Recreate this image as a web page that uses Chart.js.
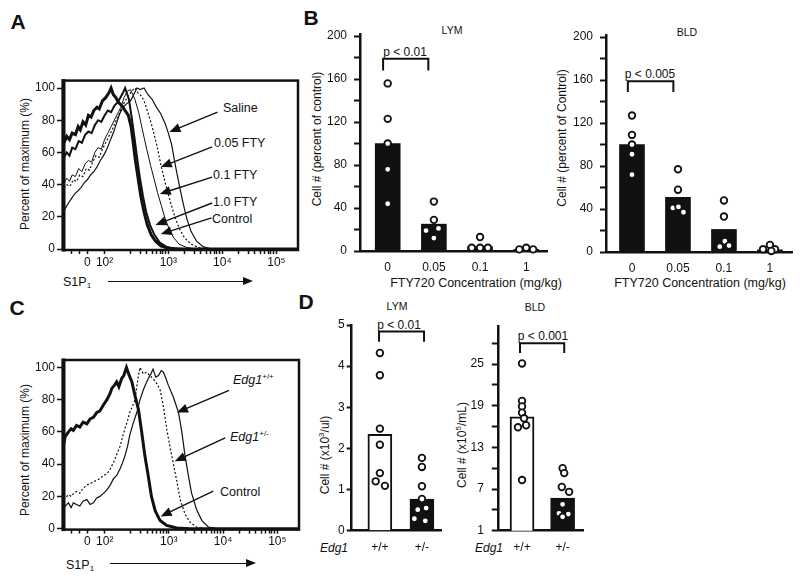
<!DOCTYPE html>
<html>
<head>
<meta charset="utf-8">
<script src="https://cdn.jsdelivr.net/npm/chart.js@4.4.0/dist/chart.umd.min.js"></script>
<style>
  body { margin: 0; width: 800px; height: 588px; position: relative; overflow: hidden; background: #fff;
         font-family: "Liberation Sans", Arial, sans-serif; color: #111; }
  canvas { position: absolute; }
  .t { position: absolute; white-space: nowrap; font-size: 12px; transform: translate(-50%, -50%); }
  .l { position: absolute; white-space: nowrap; font-size: 12.5px; transform: translate(0, -50%); }
  .rot { transform: translate(-50%, -50%) rotate(-90deg); }
  .letter { font-weight: bold; font-size: 21px; }
  .small { font-size: 10.5px; }
  sup { font-size: 8px; vertical-align: 5px; line-height: 0; }
  sub { font-size: 8px; vertical-align: -2px; line-height: 0; }
  .arrow { position: absolute; height: 0; border-top: 1.5px solid #111; }
  .arrow::after { content: ""; position: absolute; right: -3px; top: -5.5px;
                  border-left: 10px solid #111; border-top: 4.5px solid transparent; border-bottom: 4.5px solid transparent; }
</style>
</head>
<body>

<div class="t letter" style="left:18px;top:22px">A</div>
<div class="t letter" style="left:311px;top:18px">B</div>
<div class="t letter" style="left:17px;top:308px">C</div>
<div class="t letter" style="left:306px;top:302px">D</div>

<div class="t rot" style="left:25px;top:164px">Percent of maximum (%)</div>
<div class="t rot" style="left:25px;top:450px">Percent of maximum (%)</div>
<div class="t rot" style="left:317px;top:139px">Cell # (percent of control)</div>
<div class="t rot" style="left:562px;top:138px">Cell # (percent of Control)</div>
<div class="t rot" style="left:325px;top:455px">Cell # (x10<sup>3</sup>/ul)</div>
<div class="t rot" style="left:462px;top:445px">Cell # (x10<sup>5</sup>/mL)</div>

<div class="t small" style="left:452px;top:30px">LYM</div>
<div class="t small" style="left:687px;top:32px">BLD</div>
<div class="t small" style="left:397px;top:306px">LYM</div>
<div class="t small" style="left:535px;top:307px">BLD</div>

<div class="t" style="left:405px;top:52px">p &lt; 0.01</div>
<div class="t" style="left:650px;top:74px">p &lt; 0.005</div>
<div class="t" style="left:399px;top:325px">p &lt; 0.01</div>
<div class="t" style="left:543px;top:336px">p &lt; 0.001</div>

<div class="t" style="left:476px;top:283px;font-size:12.5px">FTY720 Concentration (mg/kg)</div>
<div class="t" style="left:700px;top:283px;font-size:12.5px">FTY720 Concentration (mg/kg)</div>
<div class="t" style="left:334px;top:548px;font-style:italic">Edg1</div>
<div class="t" style="left:489px;top:548px;font-style:italic">Edg1</div>

<div class="l" style="left:223px;top:108px">Saline</div>
<div class="l" style="left:214px;top:143px">0.05 FTY</div>
<div class="l" style="left:213px;top:175px">0.1 FTY</div>
<div class="l" style="left:213px;top:202px">1.0 FTY</div>
<div class="l" style="left:212px;top:219px">Control</div>

<div class="l" style="left:233px;top:380px"><i>Edg1</i><sup>+/+</sup></div>
<div class="l" style="left:230px;top:437px"><i>Edg1</i><sup>+/-</sup></div>
<div class="l" style="left:220px;top:492px">Control</div>

<div class="l" style="left:63px;top:282px">S1P<sub>1</sub></div>
<div class="arrow" style="left:108px;top:281px;width:142px"></div>
<div class="l" style="left:66px;top:565px">S1P<sub>1</sub></div>
<div class="arrow" style="left:110px;top:563px;width:143px"></div>

<script>
// flow axis in decade units of the logicle scale
const flowTickValues = [1.5, 1.82, 3, 4, 5];
const flowTickText = ["0", "10²", "10³", "10⁴", "10⁵"];
const flowMinorTicks = [1.2, 1.35, 2.3, 2.48, 2.6, 2.7, 2.78, 2.85, 2.9, 2.95,
  3.3, 3.48, 3.6, 3.7, 3.78, 3.85, 3.9, 3.95, 4.3, 4.48, 4.6, 4.7, 4.78, 4.85, 4.9, 4.95];
const percentTicks = [0, 20, 40, 60, 80, 100];

// panel A: [S1P1 decade, percent of max]
const salineA = [[1.07,24],[1.14,28],[1.20,31],[1.26,34],[1.32,36],[1.38,38],[1.44,41],[1.50,43],[1.56,46],[1.62,48],[1.68,51],[1.74,55],[1.80,58],[1.86,62],[1.92,67],[1.98,72],[2.04,78],[2.10,84],[2.16,88],[2.22,90],[2.30,92],[2.36,96],[2.42,100],[2.48,99],[2.55,100],[2.62,96],[2.70,93],[2.78,88],[2.86,84],[2.94,78],[3.00,72],[3.06,65],[3.13,52],[3.20,40],[3.27,29],[3.34,19],[3.42,11],[3.52,5],[3.64,1.5],[3.8,0],[5.4,0]];
const fty005A = [[1.07,38],[1.12,40],[1.18,39],[1.24,43],[1.30,42],[1.36,46],[1.42,45],[1.48,50],[1.54,49],[1.60,54],[1.66,58],[1.72,57],[1.78,62],[1.84,66],[1.90,70],[1.96,74],[2.02,79],[2.08,83],[2.14,88],[2.20,92],[2.26,95],[2.32,98],[2.38,100],[2.44,97],[2.50,95],[2.55,92],[2.62,85],[2.70,76],[2.79,64],[2.87,51],[2.95,40],[3.04,29],[3.12,20],[3.20,13],[3.30,7],[3.42,3],[3.56,1],[3.7,0],[5.4,0]];
const fty01A = [[1.07,41],[1.12,44],[1.17,42],[1.22,46],[1.28,45],[1.34,50],[1.40,48],[1.46,53],[1.52,55],[1.58,54],[1.64,60],[1.70,63],[1.76,62],[1.82,68],[1.88,72],[1.94,76],[2.00,80],[2.06,84],[2.12,88],[2.18,94],[2.24,98],[2.30,99],[2.34,96],[2.38,93],[2.45,85],[2.52,74],[2.60,62],[2.67,52],[2.74,43],[2.80,35],[2.87,27],[2.94,19],[3.02,12],[3.10,7],[3.20,3],[3.34,1],[3.5,0],[5.4,0]];
const fty1A = [[1.07,57],[1.12,60],[1.17,58],[1.22,63],[1.28,62],[1.34,67],[1.40,66],[1.46,71],[1.52,73],[1.58,72],[1.64,77],[1.70,80],[1.76,79],[1.82,83],[1.88,86],[1.94,85],[2.00,89],[2.06,91],[2.11,94],[2.16,97],[2.20,100],[2.24,96],[2.27,93],[2.32,82],[2.37,70],[2.42,57],[2.47,45],[2.53,33],[2.59,23],[2.66,15],[2.74,9],[2.84,4],[2.96,1.5],[3.1,0.3],[3.3,0],[5.4,0]];
const controlA = [[1.07,66],[1.12,70],[1.17,68],[1.22,72],[1.28,71],[1.33,76],[1.37,74],[1.42,79],[1.47,77],[1.52,83],[1.57,82],[1.62,86],[1.68,88],[1.72,87],[1.78,92],[1.84,94],[1.90,97],[1.94,100],[1.98,96],[2.03,94],[2.08,91],[2.14,89],[2.20,86],[2.26,83],[2.31,76],[2.35,66],[2.39,55],[2.44,44],[2.49,33],[2.55,23],[2.61,15],[2.68,9],[2.76,5],[2.86,2],[3.0,0.5],[3.2,0],[5.4,0]];

// panel C
const wildTypeC = [[1.06,15],[1.09,14],[1.15,16],[1.20,13],[1.24,16],[1.30,15],[1.36,14],[1.42,17],[1.49,18],[1.55,15],[1.61,16],[1.67,19],[1.73,20],[1.80,22],[1.86,24],[1.92,27],[1.98,31],[2.04,33],[2.10,37],[2.15,41],[2.19,45],[2.24,51],[2.28,58],[2.34,65],[2.41,72],[2.47,80],[2.53,86],[2.58,90],[2.62,93],[2.67,96],[2.71,99],[2.76,94],[2.81,95],[2.86,98],[2.90,97],[2.95,93],[2.99,89],[3.04,85],[3.08,82],[3.13,77],[3.18,72],[3.24,60],[3.30,45],[3.36,33],[3.42,22],[3.51,12],[3.61,5],[3.73,1],[3.88,0],[5.4,0]];
const hetC = [[1.06,18],[1.09,19],[1.15,21],[1.20,20],[1.25,22],[1.30,23],[1.36,22],[1.42,25],[1.49,27],[1.55,28],[1.61,29],[1.67,30],[1.73,31],[1.80,33],[1.86,34],[1.92,37],[1.98,41],[2.04,46],[2.10,51],[2.15,57],[2.19,62],[2.24,67],[2.28,72],[2.33,76],[2.38,80],[2.41,88],[2.44,95],[2.47,100],[2.53,96],[2.59,97],[2.65,95],[2.71,93],[2.78,90],[2.84,86],[2.90,76],[2.96,62],[3.02,51],[3.08,41],[3.15,29],[3.21,18],[3.30,9],[3.39,4],[3.51,1],[3.64,0],[5.4,0]];
const controlC = [[1.06,52],[1.09,57],[1.15,60],[1.20,62],[1.24,61],[1.30,64],[1.36,63],[1.42,66],[1.49,65],[1.55,68],[1.61,69],[1.67,72],[1.73,73],[1.80,77],[1.86,80],[1.92,84],[1.95,87],[2.00,89],[2.04,91],[2.08,88],[2.13,93],[2.17,95],[2.22,100],[2.26,96],[2.32,91],[2.38,82],[2.44,74],[2.50,60],[2.56,45],[2.62,33],[2.68,20],[2.75,11],[2.84,5],[2.96,2],[3.15,0.4],[3.4,0],[5.4,0]];

// panel B
const doseLabels = ["0", "0.05", "0.1", "1"];
const percentBarTicks = [0, 20, 40, 60, 80, 100, 120, 140, 160, 180, 200];
const lymMeans = [100, 25, 4, 1.5];
const lymPoints = [[156, 123, 100, 76, 44], [46, 29, 21, 19, 12], [13, 3, 3, 3], [1.5, 3, 1.5]];
const lymJitter = [[0, 0, 0, 0, 0], [0, 0, 0.1, -0.17, 0], [0, -0.18, 0, 0.17], [-0.15, 0, 0.15]];
const bldMeans = [100, 51, 21, 2];
const bldPoints = [[127, 109, 100, 91, 72], [77, 58, 41, 42, 37], [48, 33, 10, 6, 5], [2.5, 6.5, 2.5, 1]];
const bldJitter = [[0, 0, 0, 0, 0], [0, 0, -0.11, 0.01, 0.12], [0, 0, 0.02, 0.11, -0.09], [-0.15, 0, 0.11, 0.03]];

// panel D
const genotypeLabels = ["+/+", "+/-"];
const lymCountTicks = [0, 1, 2, 3, 4, 5];
const lymCountMeans = [2.34, 0.77];
const lymCountPoints = [[4.32, 3.78, 2.48, 2.09, 1.40, 1.20, 1.09], [1.77, 1.55, 1.08, 0.77, 0.51, 0.55, 0.29, 0.24]];
const lymCountJitter = [[0, 0, 0, 0, 0, -0.1, 0.12], [0, 0, 0, 0, -0.1, 0.1, -0.18, 0.08]];
const bldCountTicks = [1, 4, 7, 10, 13, 16, 19, 22, 25, 28];
const bldCountMeans = [17.4, 5.7];
const bldCountPoints = [[25.1, 19.7, 18.9, 18.0, 17.2, 16.2, 15.9, 8.3], [10.0, 9.3, 7.3, 6.6, 4.8, 3.5, 3.4, 3.0]];
const bldCountJitter = [[0, 0, 0, 0, 0.05, 0.1, -0.1, 0], [0, 0.04, -0.02, 0.16, 0, -0.09, 0.14, 0]];

Chart.defaults.font.family = '"Liberation Sans", Arial, sans-serif';
Chart.defaults.font.size = 12;
Chart.defaults.color = "#111";

const marks = {
  id: "marks",
  afterDatasetsDraw(chart, args, opts) {
    const { ctx, chartArea: a, scales: { x, y } } = chart;
    ctx.save();
    ctx.strokeStyle = "#111";
    ctx.fillStyle = "#111";
    if (opts.frame) {
      ctx.lineWidth = 2.5;
      ctx.strokeRect(a.left, a.top, a.right - a.left, a.bottom - a.top);
      ctx.fillRect(a.left - 1.5, a.top - 1.5, 4, a.bottom - a.top + 3);
    }
    (opts.arrows || []).forEach(([x0, y0, x1, y1]) => {
      const p0x = x.getPixelForValue(x0), p0y = y.getPixelForValue(y0);
      const p1x = x.getPixelForValue(x1), p1y = y.getPixelForValue(y1);
      const ang = Math.atan2(p1y - p0y, p1x - p0x);
      const c = Math.cos(ang), s = Math.sin(ang);
      ctx.lineWidth = 1.4;
      ctx.beginPath();
      ctx.moveTo(p0x, p0y);
      ctx.lineTo(p1x - 8 * c, p1y - 8 * s);
      ctx.stroke();
      ctx.beginPath();
      ctx.moveTo(p1x, p1y);
      ctx.lineTo(p1x - 11 * c + 4.5 * s, p1y - 11 * s - 4.5 * c);
      ctx.lineTo(p1x - 11 * c - 4.5 * s, p1y - 11 * s + 4.5 * c);
      ctx.closePath();
      ctx.fill();
    });
    if (opts.bracket) {
      const [from, to, level, leg] = opts.bracket;
      const bx0 = x.getPixelForValue(from), bx1 = x.getPixelForValue(to);
      const by0 = y.getPixelForValue(level), by1 = y.getPixelForValue(leg);
      ctx.lineWidth = 2;
      ctx.beginPath();
      ctx.moveTo(bx0, by1);
      ctx.lineTo(bx0, by0);
      ctx.lineTo(bx1, by0);
      ctx.lineTo(bx1, by1);
      ctx.stroke();
    }
    ctx.restore();
  },
};

function place(left, top, w, h) {
  const canvas = document.createElement("canvas");
  canvas.width = w;
  canvas.height = h;
  canvas.style.left = left + "px";
  canvas.style.top = top + "px";
  document.body.appendChild(canvas);
  return canvas;
}

function flowChart(canvas, series, arrows, padding) {
  new Chart(canvas, {
    type: "scatter",
    data: {
      datasets: series.map((s) => ({
        data: s.data.map(([x, y]) => ({ x, y })),
        showLine: true,
        pointRadius: 0,
        borderColor: "#111",
        borderWidth: s.width,
        borderDash: s.dash || [],
      })),
    },
    options: {
      responsive: false,
      animation: false,
      layout: { padding },
      plugins: { legend: { display: false }, tooltip: { enabled: false }, marks: { frame: true, arrows } },
      scales: {
        x: {
          type: "linear", min: 1.05, max: 5.4,
          afterBuildTicks: (s) => { s.ticks = flowMinorTicks.concat(flowTickValues).sort((a, b) => a - b).map((v) => ({ value: v })); },
          afterFit: (s) => { s.height = 30; },
          ticks: {
            autoSkip: false, maxRotation: 0, padding: 1,
            callback: (v) => { const i = flowTickValues.indexOf(v); return i < 0 ? "" : flowTickText[i]; },
          },
          grid: { drawOnChartArea: false, tickLength: 4, tickColor: "#111", tickWidth: 1.5 },
          border: { display: false },
        },
        y: {
          min: -0.6, max: 104.6,
          afterBuildTicks: (s) => { s.ticks = percentTicks.map((v) => ({ value: v })); },
          afterFit: (s) => { s.width = 63; },
          ticks: { padding: 2 },
          grid: { drawOnChartArea: false, tickLength: 6, tickColor: "#111", tickWidth: 1.5 },
          border: { display: false },
        },
      },
    },
    plugins: [marks],
  });
}

function dotBarChart(canvas, cfg) {
  const points = [];
  cfg.points.forEach((group, i) => {
    group.forEach((v, j) => points.push({ x: i + cfg.jitter[i][j], y: v }));
  });
  new Chart(canvas, {
    type: "bar",
    data: {
      datasets: [
        {
          type: "scatter", data: points, order: 0, clip: false,
          pointRadius: 3.3, pointBorderWidth: 1.8, pointBorderColor: "#111", pointBackgroundColor: "#fff",
        },
        {
          data: cfg.means.map((v, i) => ({ x: i, y: v })), order: 1,
          backgroundColor: cfg.fill, borderColor: "#111", borderWidth: cfg.outline, barThickness: cfg.barWidth,
        },
      ],
    },
    options: {
      responsive: false,
      animation: false,
      layout: { padding: cfg.padding },
      plugins: { legend: { display: false }, tooltip: { enabled: false }, marks: { bracket: cfg.bracket } },
      scales: {
        x: {
          type: "linear", offset: false, min: cfg.xRange[0], max: cfg.xRange[1],
          afterBuildTicks: (s) => { s.ticks = cfg.labels.map((_, i) => ({ value: i })); },
          afterFit: (s) => { s.height = cfg.xHeight; },
          ticks: { autoSkip: false, maxRotation: 0, padding: cfg.xPad, callback: (v) => cfg.labels[v] },
          grid: { display: false, drawTicks: false, offset: false },
          border: { color: "#111", width: 2.5 },
        },
        y: {
          min: cfg.yRange[0], max: cfg.yRange[1], beginAtZero: false,
          afterBuildTicks: (s) => { s.ticks = cfg.yTicks.map((v) => ({ value: v })); },
          afterFit: (s) => { s.width = cfg.yWidth; },
          ticks: { autoSkip: false, padding: cfg.yPad, callback: cfg.yLabel },
          grid: { drawOnChartArea: false, tickLength: cfg.tickLen, tickColor: "#111", tickWidth: 2 },
          border: { color: "#111", width: 2.5 },
        },
      },
    },
    plugins: [marks],
  });
}

document.addEventListener("DOMContentLoaded", () => {
  flowChart(place(0, 60, 310, 230), [
    { data: salineA, width: 1.2 },
    { data: fty005A, width: 1.2, dash: [2, 2] },
    { data: fty01A, width: 1 },
    { data: fty1A, width: 2 },
    { data: controlA, width: 3 },
  ], [
    [3.91, 85, 3.02, 72.7],
    [3.81, 63.4, 2.86, 50.9],
    [3.81, 44.7, 2.84, 34.2],
    [3.81, 28.6, 2.76, 14.9],
    [3.80, 19.3, 2.86, 9.3],
  ], { left: 0, top: 20.6, right: 12, bottom: 10 });

  flowChart(place(0, 345, 310, 230), [
    { data: wildTypeC, width: 1.2 },
    { data: hetC, width: 1.2, dash: [2, 2] },
    { data: controlC, width: 3 },
  ], [
    [4.11, 85.7, 3.15, 72],
    [4.04, 56.3, 3.11, 41.8],
    [3.82, 23.2, 2.85, 7.6],
  ], { left: 0, top: 15, right: 11, bottom: 15.4 });

  const every40 = (v) => (v % 40 === 0 ? v : "");
  dotBarChart(place(290, 15, 265, 285), {
    labels: doseLabels, means: lymMeans, points: lymPoints, jitter: lymJitter,
    fill: "#111", outline: 0, barWidth: 25,
    xRange: [-0.6, 3.45], yRange: [0, 202], yTicks: percentBarTicks, yLabel: every40,
    yWidth: 70, yPad: 7, tickLen: 6, xHeight: 30, xPad: 9,
    bracket: [-0.1, 0.88, 179, 168],
    padding: { left: 0, top: 19, right: 8, bottom: 19 },
  });
  dotBarChart(place(540, 15, 260, 285), {
    labels: doseLabels, means: bldMeans, points: bldPoints, jitter: bldJitter,
    fill: "#111", outline: 0, barWidth: 25,
    xRange: [-0.565, 3.48], yRange: [0, 202], yTicks: percentBarTicks, yLabel: every40,
    yWidth: 66, yPad: 7, tickLen: 6, xHeight: 30, xPad: 9,
    bracket: [-0.09, 0.9, 159, 149],
    padding: { left: 0, top: 20, right: 8, bottom: 18 },
  });

  dotBarChart(place(300, 305, 150, 260), {
    labels: genotypeLabels, means: lymCountMeans, points: lymCountPoints, jitter: lymCountJitter,
    fill: ["#fff", "#111"], outline: 2, barWidth: 24,
    xRange: [-0.67, 1.47], yRange: [0, 5], yTicks: lymCountTicks, yLabel: (v) => v,
    yWidth: 51.7, yPad: 2, tickLen: 5, xHeight: 25, xPad: 10,
    bracket: [-0.02, 1.05, 4.84, 4.59],
    padding: { left: 0, top: 20, right: 8.3, bottom: 9.3 },
  });
  dotBarChart(place(450, 305, 145, 260), {
    labels: genotypeLabels, means: bldCountMeans, points: bldCountPoints, jitter: bldCountJitter,
    fill: ["#fff", "#111"], outline: 2, barWidth: 24,
    xRange: [-0.585, 1.51], yRange: [1, 30.5], yTicks: bldCountTicks, yLabel: (v) => ((v - 1) % 6 === 0 ? v : ""),
    yWidth: 48.3, yPad: 8, tickLen: 6.5, xHeight: 25, xPad: 10,
    bracket: [-0.05, 1.04, 28, 26.6],
    padding: { left: 0, top: 21, right: 11.7, bottom: 9.3 },
  });
});
</script>
</body>
</html>
